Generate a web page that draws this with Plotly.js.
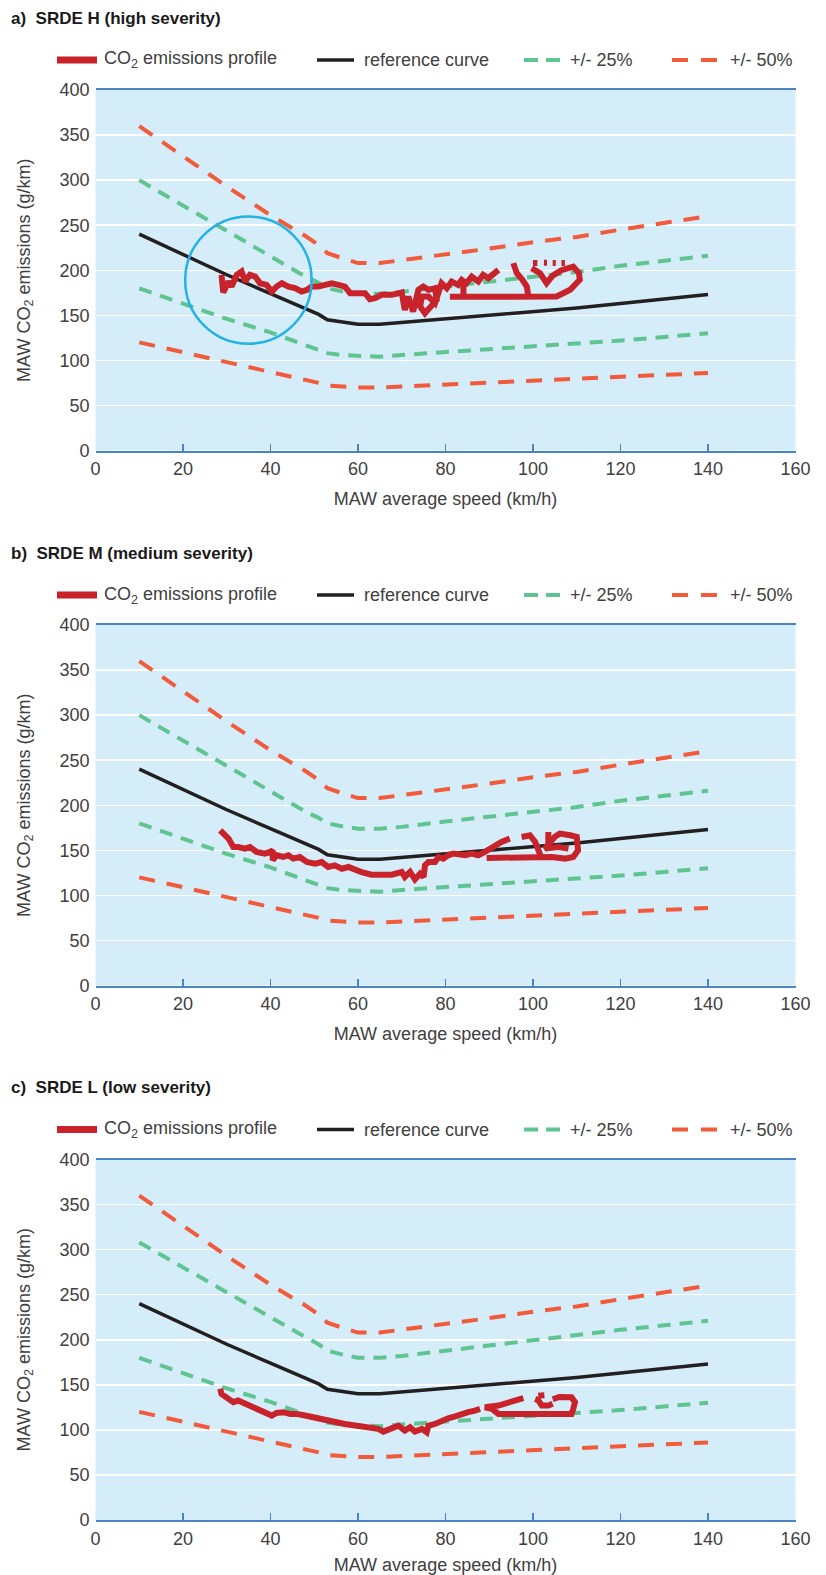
<!DOCTYPE html>
<html>
<head>
<meta charset="utf-8">
<script src="https://cdn.plot.ly/plotly-3.0.1.min.js"></script>
<style>
  html, body { margin: 0; padding: 0; background: #ffffff; }
  #chart { width: 826px; height: 1575px; }
</style>
</head>
<body>
<div id="chart"></div>
<script>
// Reference CO2 curve over MAW average speed (same for all three trips)
const speedRef = [10, 20, 30, 40, 48, 51, 53, 56, 60, 65, 70, 80, 90, 100, 110, 120, 130, 140];
const co2Ref   = [240, 217, 195, 174, 158, 151, 145, 143, 140, 140, 142, 146, 150, 154, 158, 163, 168, 173];

// Tolerance bands around the reference curve
const plus50  = [360, 326, 293, 261, 238, 228, 219, 214, 208, 208, 211, 218, 224, 231, 237, 245, 252, 260];
const plus25  = [300, 272, 244, 215, 193, 186, 180, 177, 174, 174, 176, 182, 187, 193, 198, 205, 210, 216];
const plus25L = [308, 280, 252, 225, 203, 195, 188, 184, 180, 180, 182, 188, 194, 200, 205, 211, 216, 221];
const minus25 = [180, 163, 146, 131, 117, 112, 108, 106, 105, 104, 106, 109, 112, 115, 118, 122, 126, 130];
const minus50 = [120, 109, 98, 87, 79, 75, 72, 71, 70, 70, 71, 73, 75, 77, 79, 81, 84, 86];

// Measured MAW CO2 emissions profile, SRDE H (null = break in the trace)
const speedH = [28.8, 29.2, 30.4, 31.1, 32.3, 33.4, 34.2, 35.3, 36.5, 37.6, 39.1, 40.3, 41.4, 42.6, 44.1, 45.6, 47.1, 48.3, 49.4, 50.9,
  52.5, 54.0, 55.5, 57.0, 58.2, 60.1, 61.6, 62.7, 63.9, 65.4, 67.7, 70.0, 70.7, 71.5, 72.6, 73.8, 74.9, 76.1, 77.6, 78.0,
  76.8, 75.3, 74.2, 74.6, 76.1, 77.6, 79.1, 80.3, 81.4, 82.9, 83.7, 84.8, 86.0, 87.5, 88.6, 89.8, 92.1, null,
  81.0, 84.1, 84.1, 84.1, 92.0, 98.9, 105.4, 108.5, 110.7, 110.5, 109.2, 106.5, 104.5, 103.1, 101.6, 99.7, null,
  95.5, 96.3, 97.5, 98.6, 98.9, null,
  100.0, 101.0, null, 102.5, 103.2, null, 104.5, 105.2, null, 106.5, 107.3];
const co2H = [194.9, 175.3, 187.5, 181.9, 194.9, 198.6, 187.5, 194.9, 193.0, 185.6, 183.8, 176.4, 181.9, 185.6, 181.9, 180.1, 176.4, 178.2, 181.9, 181.9,
  183.8, 185.6, 183.8, 181.9, 174.5, 175.3, 174.5, 167.9, 169.0, 172.7, 172.7, 175.3, 156.0, 170.8, 154.2, 178.2, 181.9, 178.2, 180.0, 167.1,
  159.7, 152.3, 159.7, 170.8, 170.8, 163.4, 185.6, 180.1, 187.5, 183.8, 189.3, 185.6, 193.0, 187.5, 194.9, 191.2, 200.4, null,
  170.5, 170.5, 185.0, 170.5, 170.5, 171.0, 171.0, 178.3, 189.4, 197.0, 204.0, 200.0, 194.0, 185.7, 196.8, 202.3, null,
  207.9, 196.8, 190.0, 181.9, 172.0, null,
  208.0, 208.0, null, 208.3, 208.3, null, 208.0, 208.0, null, 208.0, 208.0];

// Measured MAW CO2 emissions profile, SRDE M
const speedM = [28.5, 29.2, 30.4, 31.5, 32.6, 34.2, 35.3, 36.8, 38.7, 39.9, 40.5, 40.5, 41.4, 42.9, 44.1, 45.2, 46.7, 48.3, 50.2, 51.7,
  53.2, 54.7, 56.3, 57.8, 59.3, 60.8, 63.1, 65.4, 67.7, 70.0, 70.7, 71.9, 73.0, 74.2, 75.0, 75.3, 76.1, 77.6, 78.4, 79.5,
  80.6, 81.8, 82.9, 84.5, 86.0, 87.5, 89.0, 90.2, 91.3, 92.8, 94.7, null,
  89.4, 101.2, 104.3, 107.3, 109.2, 110.3, 110.0, 108.5, 106.1, 105.0, 102.7, 105.8, 108.1, null,
  97.4, 99.3, 100.5, 101.2, 102.0, null,
  103.5, 103.5];
const co2M = [172.2, 168.5, 163.0, 153.7, 153.7, 151.9, 153.7, 148.2, 146.3, 148.2, 150.0, 139.0, 144.5, 142.6, 144.5, 140.8, 142.6, 137.0, 135.2, 137.0,
  131.5, 133.3, 129.6, 131.5, 127.8, 125.9, 123.0, 123.0, 123.0, 125.9, 120.4, 126.0, 117.8, 124.1, 120.4, 133.3, 137.0, 137.0, 142.6, 140.8,
  144.5, 146.3, 145.2, 144.5, 146.3, 144.5, 148.2, 151.9, 153.7, 159.3, 163.0, null,
  141.5, 141.5, 142.6, 140.8, 142.6, 150.0, 164.8, 166.7, 168.5, 165.0, 151.9, 153.7, 151.9, null,
  164.8, 166.7, 159.3, 148.2, 140.8, null,
  170.4, 158.0];

// Measured MAW CO2 emissions profile, SRDE L
const speedL = [28.5, 28.8, 30.4, 31.5, 32.6, 34.2, 35.7, 37.2, 38.7, 40.3, 41.4, 42.9, 44.5, 46.0, 47.9, 49.4, 51.3, 53.2, 55.1, 57.0,
  58.9, 60.8, 62.7, 64.6, 65.8, 67.3, 69.2, 70.7, 71.9, 73.0, 74.6, 75.7, 76.1, 77.6, 79.1, 80.6, 82.2, 83.7, 85.2, 86.7, 87.9, null,
  97.8, 95.1, 92.1, 89.0, 90.6, 92.1, 100.0, 106.6, 108.8, 109.2, 109.6, 108.8, 106.0, 104.5, null,
  100.5, 101.2, 102.0, 103.5, 104.5, null,
  101.2, 102.6];
const co2L = [145.5, 139.9, 134.4, 130.7, 132.5, 128.8, 125.1, 123.3, 119.6, 115.9, 118.8, 119.6, 117.7, 117.7, 115.9, 114.0, 112.9, 110.3, 108.4, 106.6,
  105.5, 102.9, 101.8, 101.1, 98.1, 101.1, 104.7, 99.2, 102.9, 98.1, 101.1, 97.3, 104.7, 106.6, 110.3, 112.9, 115.1, 116.6, 119.6, 121.4, 123.3, null,
  135.1, 131.4, 127.0, 125.1, 123.3, 117.7, 117.5, 116.6, 117.7, 123.3, 130.7, 136.2, 136.5, 134.0, null,
  134.4, 133.0, 127.0, 127.0, 129.0, null,
  138.0, 138.5];

const xTicks = [0, 20, 40, 60, 80, 100, 120, 140, 160];
const yTicks = [0, 50, 100, 150, 200, 250, 300, 350, 400];

const panelTitles = ['a)\u00a0\u00a0SRDE H (high severity)', 'b)\u00a0\u00a0SRDE M (medium severity)', 'c)\u00a0\u00a0SRDE L (low severity)'];
const legendLabels = ['CO<sub>2</sub> emissions profile', 'reference curve', '+/- 25%', '+/- 50%'];

// Page geometry (pixels)
const W = 826, H = 1575;
const plotLeft = 95.5, plotRight = 795.5, plotHeight = 360.5;
const plotTops = [90, 625, 1159.5];
const fx = px => px / W;
const fy = py => 1 - py / H;

const COL = {
  profile: '#c8232b', ref: '#231f20', green: '#5fc490', orange: '#f15a3b',
  axis: '#4a84c4', bg: '#d5ecf9', circle: '#22b2e7', text: '#404040'
};
const FONT = 'Liberation Sans, Arial, Helvetica, sans-serif';

const panels = [
  { speed: speedH, co2: co2H, upper25: plus25 },
  { speed: speedM, co2: co2M, upper25: plus25 },
  { speed: speedL, co2: co2L, upper25: plus25L }
];

const traces = [];
const layout = {
  width: W, height: H,
  margin: { l: 0, r: 0, t: 0, b: 0 },
  paper_bgcolor: '#ffffff',
  plot_bgcolor: COL.bg,
  showlegend: false,
  font: { family: FONT, size: 18, color: COL.text },
  shapes: [],
  annotations: []
};

panels.forEach((p, i) => {
  const n = i === 0 ? '' : String(i + 1);
  const xa = 'x' + n, ya = 'y' + n;
  const top = plotTops[i], bottom = top + plotHeight;

  layout['xaxis' + n] = {
    domain: [fx(plotLeft), fx(plotRight)],
    anchor: ya,
    range: [0, 160],
    tickvals: xTicks,
    ticks: 'inside', ticklen: 7, tickwidth: 1.5, tickcolor: COL.axis,
    showline: true, linecolor: COL.axis, linewidth: 2, mirror: true,
    showgrid: false, zeroline: false,
    ticklabelstandoff: 1,
    tickfont: { size: 18, color: COL.text },
    title: { text: 'MAW average speed (km/h)', font: { size: 18, color: COL.text }, standoff: 14 },
    fixedrange: true
  };
  layout['yaxis' + n] = {
    domain: [fy(bottom), fy(top)],
    anchor: xa,
    range: [0, 400],
    tickvals: yTicks,
    ticks: '',
    showline: false,
    showgrid: true, gridcolor: '#ffffff', gridwidth: 1.5,
    zeroline: false,
    ticklabelstandoff: 5,
    tickfont: { size: 18, color: COL.text },
    title: { text: 'MAW CO<sub>2</sub> emissions (g/km)', font: { size: 18, color: COL.text }, standoff: 24 },
    fixedrange: true
  };

  const band = (y, color, dash) => ({
    type: 'scatter', mode: 'lines', x: speedRef, y: y, xaxis: xa, yaxis: ya,
    line: { color: color, width: 4, dash: dash }, hoverinfo: 'skip'
  });
  traces.push(band(minus50, COL.orange, '16px,12px'));
  traces.push(band(plus50, COL.orange, '16px,12px'));
  traces.push(band(minus25, COL.green, '13px,9px'));
  traces.push(band(p.upper25, COL.green, '13px,9px'));
  traces.push({
    type: 'scatter', mode: 'lines', x: speedRef, y: co2Ref, xaxis: xa, yaxis: ya,
    line: { color: COL.ref, width: 3.5 }, hoverinfo: 'skip'
  });
  traces.push({
    type: 'scatter', mode: 'lines', x: p.speed, y: p.co2, xaxis: xa, yaxis: ya,
    connectgaps: false,
    line: { color: COL.profile, width: 6 }, hoverinfo: 'skip'
  });

  // panel heading
  layout.annotations.push({
    xref: 'paper', yref: 'paper', x: fx(9), y: fy(top - 72),
    xanchor: 'left', yanchor: 'middle', showarrow: false,
    text: '<b>' + panelTitles[i] + '</b>',
    font: { family: FONT, size: 17, color: '#1a1a1a' }
  });

  // legend row drawn above each panel
  const ly = fy(top - 30);
  const legendItems = [
    { x0: 57, x1: 97, color: COL.profile, width: 7, dash: 'solid', tx: 102 },
    { x0: 317, x1: 354, color: COL.ref, width: 3.5, dash: 'solid', tx: 362 },
    { x0: 524, x1: 560, color: COL.green, width: 4, dash: '14px,8px', tx: 568 },
    { x0: 672, x1: 719, color: COL.orange, width: 4, dash: '16px,13px', tx: 728 }
  ];
  legendItems.forEach((it, k) => {
    layout.shapes.push({
      type: 'line', xref: 'paper', yref: 'paper',
      x0: fx(it.x0), x1: fx(it.x1), y0: ly, y1: ly,
      line: { color: it.color, width: it.width, dash: it.dash }
    });
    layout.annotations.push({
      xref: 'paper', yref: 'paper', x: fx(it.tx), y: ly,
      xanchor: 'left', yanchor: 'middle', showarrow: false,
      text: legendLabels[k], font: { family: FONT, size: 18, color: COL.text }
    });
  });
});

// highlight ring on the low-speed part of the SRDE H profile
layout.shapes.push({
  type: 'circle', xref: 'x', yref: 'y',
  x0: 20.5, x1: 49.4, y0: 118.4, y1: 259.6,
  line: { color: COL.circle, width: 2.5 }
});

Plotly.newPlot('chart', traces, layout, { staticPlot: true, displayModeBar: false });
</script>
</body>
</html>
